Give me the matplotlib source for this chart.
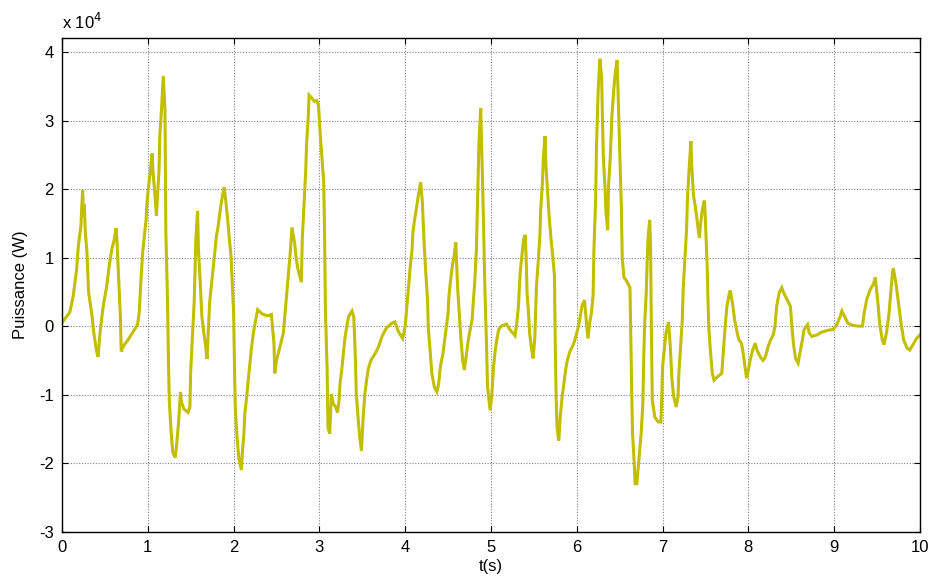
import matplotlib
matplotlib.use("Agg")
import matplotlib.pyplot as plt

# time (s)
t = [0.00, 0.09, 0.13, 0.17, 0.19, 0.22, 0.23, 0.24, 0.25, 0.26, 0.27, 0.29, 0.31, 0.35, 0.37, 0.40, 0.42,
     0.44, 0.46, 0.48, 0.52, 0.55, 0.58, 0.61, 0.63, 0.64, 0.66, 0.68, 0.69, 0.71, 0.77, 0.83, 0.88,
     0.90, 0.92, 0.94, 0.96, 0.98, 0.99, 1.01, 1.03, 1.05, 1.06, 1.08, 1.10, 1.11, 1.13, 1.14, 1.16,
     1.18, 1.20, 1.21, 1.23, 1.24, 1.25, 1.27, 1.29, 1.32, 1.34, 1.36, 1.38, 1.39, 1.42, 1.47, 1.49,
     1.50, 1.52, 1.54, 1.55, 1.56, 1.58, 1.59, 1.61, 1.63, 1.65, 1.67, 1.69, 1.71, 1.72, 1.74, 1.76,
     1.78, 1.80, 1.82, 1.84, 1.86, 1.89, 1.91, 1.93, 1.95, 1.97, 2.00, 2.01, 2.02, 2.04, 2.06, 2.09,
     2.10, 2.12, 2.13, 2.15, 2.17, 2.19, 2.21, 2.23, 2.25, 2.28, 2.33, 2.39, 2.44, 2.47, 2.48, 2.50,
     2.54, 2.58, 2.60, 2.62, 2.64, 2.66, 2.68, 2.71, 2.73, 2.75, 2.79, 2.80, 2.82, 2.84, 2.85, 2.87,
     2.88, 2.91, 2.94, 2.97, 2.99, 3.01, 3.03, 3.05, 3.06, 3.07, 3.09, 3.10, 3.12, 3.14, 3.16, 3.19,
     3.21, 3.23, 3.24, 3.26, 3.28, 3.30, 3.32, 3.34, 3.38, 3.40, 3.41, 3.42, 3.43, 3.45, 3.47, 3.49,
     3.51, 3.53, 3.55, 3.57, 3.60, 3.65, 3.69, 3.73, 3.78, 3.84, 3.88, 3.92, 3.97, 4.00, 4.02, 4.04,
     4.06, 4.08, 4.09, 4.11, 4.13, 4.15, 4.18, 4.20, 4.22, 4.24, 4.26, 4.27, 4.29, 4.31, 4.34, 4.37,
     4.39, 4.41, 4.44, 4.46, 4.48, 4.50, 4.51, 4.53, 4.55, 4.57, 4.59, 4.60, 4.61, 4.63, 4.65, 4.67,
     4.69, 4.71, 4.73, 4.75, 4.78, 4.79, 4.81, 4.83, 4.84, 4.85, 4.86, 4.88, 4.89, 4.91, 4.93, 4.95,
     4.96, 4.99, 5.01, 5.03, 5.05, 5.07, 5.09, 5.12, 5.18, 5.22, 5.28, 5.30, 5.32, 5.34, 5.36, 5.38,
     5.40, 5.41, 5.42, 5.44, 5.45, 5.47, 5.49, 5.51, 5.52, 5.53, 5.55, 5.57, 5.58, 5.60, 5.61, 5.63,
     5.64, 5.66, 5.68, 5.70, 5.72, 5.74, 5.75, 5.76, 5.77, 5.79, 5.81, 5.83, 5.85, 5.87, 5.89, 5.92,
     5.96, 5.99, 6.02, 6.04, 6.06, 6.09, 6.11, 6.13, 6.15, 6.17, 6.19, 6.20, 6.22, 6.23, 6.25, 6.27,
     6.29, 6.30, 6.31, 6.33, 6.34, 6.36, 6.37, 6.39, 6.41, 6.43, 6.45, 6.47, 6.48, 6.50, 6.52, 6.53,
     6.55, 6.58, 6.62, 6.63, 6.64, 6.65, 6.67, 6.68, 6.70, 6.72, 6.75, 6.77, 6.78, 6.79, 6.81, 6.82,
     6.83, 6.85, 6.86, 6.87, 6.88, 6.91, 6.95, 6.98, 6.99, 7.00, 7.02, 7.04, 7.07, 7.09, 7.11, 7.13,
     7.16, 7.18, 7.19, 7.21, 7.23, 7.24, 7.26, 7.28, 7.29, 7.31, 7.33, 7.34, 7.36, 7.38, 7.40, 7.42,
     7.43, 7.44, 7.46, 7.48, 7.49, 7.50, 7.52, 7.53, 7.54, 7.56, 7.58, 7.60, 7.64, 7.69, 7.71, 7.73,
     7.75, 7.78, 7.79, 7.82, 7.84, 7.87, 7.89, 7.92, 7.94, 7.96, 7.98, 8.00, 8.02, 8.05, 8.08, 8.10,
     8.14, 8.17, 8.19, 8.21, 8.23, 8.26, 8.29, 8.31, 8.33, 8.36, 8.39, 8.41, 8.45, 8.49, 8.51, 8.53,
     8.55, 8.58, 8.60, 8.63, 8.65, 8.69, 8.71, 8.74, 8.80, 8.85, 8.93, 8.99, 9.03, 9.07, 9.09, 9.13,
     9.16, 9.22, 9.28, 9.33, 9.35, 9.38, 9.42, 9.46, 9.48, 9.49, 9.51, 9.53, 9.56, 9.58, 9.61, 9.64,
     9.66, 9.68, 9.69, 9.72, 9.75, 9.78, 9.81, 9.85, 9.88, 9.92, 9.96, 10.00]

# power, in units of 1e4 W (axis shows "x 10^4")
P = [0.05, 0.20, 0.44, 0.83, 1.17, 1.46, 1.75, 1.98, 1.60, 1.78, 1.40, 1.08, 0.49, 0.14, -0.10, -0.35, -0.45,
     -0.13, 0.09, 0.29, 0.58, 0.88, 1.12, 1.27, 1.43, 1.25, 0.68, 0.14, -0.37, -0.30, -0.20, -0.08, 0.02,
     0.20, 0.68, 1.08, 1.32, 1.56, 1.81, 2.05, 2.27, 2.52, 2.25, 1.96, 1.61, 1.85, 2.25, 2.79, 3.18,
     3.65, 3.15, 1.37, 0.34, -0.50, -1.08, -1.52, -1.84, -1.92, -1.67, -1.38, -0.96, -1.10, -1.21, -1.26, -1.18,
     -0.64, -0.15, 0.34, 0.83, 1.27, 1.68, 1.12, 0.66, 0.14, -0.08, -0.25, -0.48, 0.09, 0.34, 0.58, 0.83,
     1.07, 1.32, 1.46, 1.66, 1.83, 2.03, 1.81, 1.56, 1.27, 1.02, 0.19, -0.59, -1.21, -1.62, -1.92, -2.10,
     -1.87, -1.57, -1.28, -1.06, -0.79, -0.54, -0.30, -0.10, 0.04, 0.24, 0.18, 0.15, 0.17, -0.25, -0.69, -0.50,
     -0.30, -0.10, 0.19, 0.49, 0.78, 1.07, 1.44, 1.22, 0.98, 0.83, 0.64, 1.27, 1.76, 2.25, 2.64, 3.06,
     3.37, 3.33, 3.28, 3.29, 3.21, 2.79, 2.45, 2.10, 1.37, 0.24, -0.64, -1.48, -1.57, -0.99, -1.13, -1.18,
     -1.26, -1.08, -0.84, -0.64, -0.40, -0.15, 0.00, 0.14, 0.22, 0.14, -0.15, -0.50, -0.99, -1.33, -1.62, -1.82,
     -1.33, -0.99, -0.79, -0.62, -0.50, -0.40, -0.30, -0.15, -0.03, 0.04, 0.06, -0.08, -0.18, 0.00, 0.29, 0.58,
     0.88, 1.12, 1.37, 1.56, 1.71, 1.88, 2.10, 1.81, 1.22, 0.78, 0.39, -0.05, -0.35, -0.69, -0.89, -0.96,
     -0.84, -0.59, -0.40, -0.20, 0.00, 0.19, 0.44, 0.68, 0.88, 1.02, 1.22, 0.88, 0.58, 0.19, -0.20, -0.50,
     -0.64, -0.45, -0.25, -0.10, 0.09, 0.29, 0.63, 1.12, 1.66, 2.15, 2.69, 3.18, 2.70, 1.66, 0.49, -0.37,
     -0.89, -1.23, -0.99, -0.59, -0.35, -0.18, -0.05, 0.00, 0.03, -0.05, -0.14, 0.04, 0.29, 0.78, 1.02, 1.27,
     1.33, 0.98, 0.49, 0.14, -0.10, -0.30, -0.47, -0.20, 0.19, 0.58, 0.93, 1.32, 1.71, 2.10, 2.45, 2.77,
     2.35, 1.96, 1.56, 1.27, 1.02, 0.73, -0.35, -1.08, -1.48, -1.67, -1.28, -1.03, -0.84, -0.64, -0.50, -0.37,
     -0.27, -0.15, 0.00, 0.14, 0.29, 0.38, 0.09, -0.18, 0.04, 0.19, 0.44, 1.12, 1.86, 2.64, 3.47, 3.90,
     3.62, 2.99, 2.45, 2.00, 1.66, 1.40, 2.05, 2.45, 3.08, 3.43, 3.72, 3.88, 3.47, 2.59, 1.71, 0.98,
     0.71, 0.66, 0.56, -0.20, -0.94, -1.57, -2.01, -2.30, -2.30, -2.01, -1.57, -1.13, -0.50, 0.00, 0.49, 0.93,
     1.27, 1.55, 1.17, -0.10, -1.08, -1.33, -1.40, -1.40, -1.08, -0.59, -0.35, -0.10, 0.06, -0.30, -0.79, -1.03,
     -1.18, -1.03, -0.69, -0.30, 0.09, 0.53, 0.98, 1.42, 1.86, 2.30, 2.70, 2.35, 1.91, 1.76, 1.56, 1.37,
     1.29, 1.46, 1.66, 1.81, 1.83, 1.51, 0.88, 0.34, -0.05, -0.40, -0.69, -0.79, -0.74, -0.69, -0.35, 0.00,
     0.29, 0.49, 0.52, 0.29, 0.09, -0.10, -0.20, -0.25, -0.40, -0.59, -0.76, -0.64, -0.50, -0.35, -0.25, -0.35,
     -0.45, -0.50, -0.47, -0.40, -0.30, -0.20, -0.13, 0.00, 0.29, 0.49, 0.56, 0.49, 0.39, 0.29, -0.05, -0.30,
     -0.47, -0.54, -0.40, -0.20, -0.05, 0.02, -0.10, -0.15, -0.13, -0.09, -0.06, -0.05, 0.02, 0.14, 0.22, 0.12,
     0.04, 0.01, 0.00, 0.00, 0.19, 0.39, 0.53, 0.62, 0.71, 0.58, 0.34, 0.04, -0.20, -0.27, -0.10, 0.19,
     0.49, 0.78, 0.84, 0.63, 0.34, 0.04, -0.20, -0.32, -0.35, -0.27, -0.18, -0.13]

xticks = [0, 1, 2, 3, 4, 5, 6, 7, 8, 9, 10]
yticks = [-3, -2, -1, 0, 1, 2, 3, 4]

plt.rcParams['font.family'] = ['Liberation Sans', 'DejaVu Sans']

fig = plt.figure(figsize=(9.33, 5.86), dpi=100)
ax = fig.add_axes([0.0665, 0.0927, 0.9195, 0.842])

ax.plot(t, P, color='#C2BE00', linewidth=2.2, solid_joinstyle='miter')

ax.set_xlim(0, 10)
ax.set_ylim(-3, 4.2)
ax.set_xticks(xticks)
ax.set_yticks(yticks)
ax.set_xticklabels([str(v) for v in xticks])
ax.set_yticklabels([str(v) for v in yticks])

ax.grid(True, color='#808080', linestyle=(0, (1, 1.5)), linewidth=0.8)
ax.tick_params(direction='in', top=True, right=True, length=4, width=0.8,
               labelsize=12, pad=6, colors='black')
for s in ax.spines.values():
    s.set_linewidth(1.0)
    s.set_color('black')

ax.set_xlabel('t(s)', fontsize=12, labelpad=3)
ax.set_ylabel('Puissance (W)', fontsize=12, labelpad=8)

ax.text(0.0, 1.012, r'x 10$^{4}$', transform=ax.transAxes, fontsize=12,
        ha='left', va='bottom')

fig.savefig('out.png', dpi=100)
